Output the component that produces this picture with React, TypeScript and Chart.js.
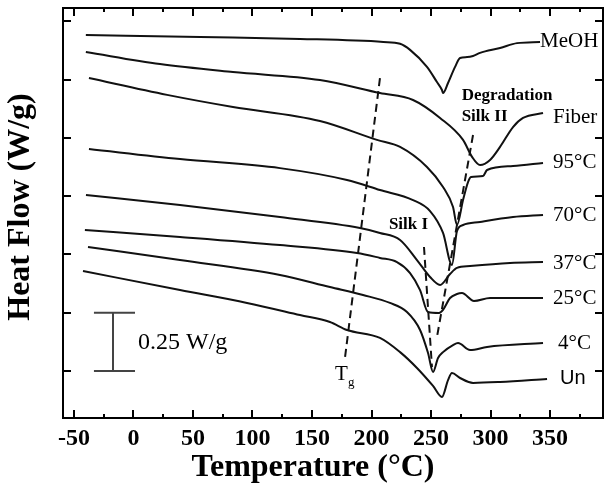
import React, { useEffect, useRef } from "react";
import { Chart, registerables } from "chart.js";

Chart.register(...registerables);

// ---------- axis ticks ----------
const X_TICKS = [-50, 0, 50, 100, 150, 200, 250, 300, 350];
const X_MINOR = [-25, 25, 75, 125, 175, 225, 275, 325, 375];
const Y_TICKS = [0, 0.25, 0.5, 0.75, 1.0, 1.25, 1.5];

// ---------- series (Temperature °C, Heat Flow W/g, stacked offsets) ----------
const SERIES_NAMES = ["MeOH", "Fiber", "95°C", "70°C", "37°C", "25°C", "4°C", "Un"];

const MEOH: number[][] = [
  [-40, 1.441], [56, 1.432], [140, 1.424], [210, 1.411], [224, 1.403], [232.4, 1.377],
  [246.6, 1.304], [255, 1.239], [259.2, 1.205], [260.1, 1.192], [264.3, 1.235], [270.2, 1.304],
  [274.4, 1.342], [280.3, 1.346], [285.3, 1.351], [291.2, 1.364], [308, 1.385], [322.3, 1.406],
  [341.6, 1.411],
];
const FIBER: number[][] = [
  [-40, 1.368], [22.3, 1.316], [83.6, 1.282], [156.7, 1.248], [207.1, 1.192], [234.9, 1.162],
  [257.6, 1.085], [276.9, 0.991], [284.5, 0.918], [291.2, 0.883], [299.6, 0.905], [308, 0.961],
  [318.9, 1.046], [327.3, 1.085], [344.1, 1.106],
];
const C95: number[][] = [
  [-37.4, 1.256], [28.2, 1.184], [83.6, 1.132], [156.7, 1.072], [204.6, 0.991], [224, 0.961],
  [246.6, 0.875], [260.1, 0.789], [268.5, 0.703], [271.8, 0.626], [276.9, 0.733], [281.1, 0.81],
  [283.6, 0.832], [293.7, 0.836], [297.1, 0.862], [318.9, 0.879], [344.1, 0.892],
];
const C70: number[][] = [
  [-37.4, 0.952], [39.1, 0.909], [123.1, 0.87], [179.4, 0.819], [207.1, 0.776], [234.9, 0.733],
  [249.2, 0.686], [260.1, 0.592], [267.6, 0.455], [271.8, 0.6], [276.9, 0.626], [291.2, 0.639],
  [318.9, 0.66], [344.1, 0.669],
];
const C37: number[][] = [
  [-39.9, 0.755], [39.1, 0.712], [123.1, 0.66], [190.3, 0.613], [207.1, 0.592], [224, 0.562],
  [238.2, 0.476], [249.2, 0.403], [257.6, 0.369], [266, 0.416], [271.8, 0.442], [282.8, 0.45],
  [316.4, 0.463], [344.1, 0.467],
];
const C25: number[][] = [
  [-40.8, 0.605], [39.1, 0.575], [123.1, 0.54], [187.8, 0.506], [207.1, 0.485], [221.4, 0.467],
  [232.4, 0.42], [240.8, 0.347], [247.5, 0.253], [256.7, 0.249], [260.1, 0.262], [266, 0.313],
  [271.8, 0.33], [276, 0.334], [286.1, 0.3], [299.6, 0.313], [344.1, 0.313],
];
const C4: number[][] = [
  [-38.2, 0.532], [39.1, 0.476], [123.1, 0.412], [165.1, 0.36], [192.9, 0.326], [215.5, 0.292],
  [229.8, 0.253], [240.8, 0.176], [247.5, 0.077], [251.7, -0.004], [255.9, 0.056], [260.1, 0.081],
  [268.5, 0.111], [272.7, 0.12], [282.8, 0.09], [297.1, 0.103], [344.1, 0.12],
];
const UN: number[][] = [
  [-42.4, 0.429], [39.1, 0.347], [95.4, 0.292], [139.9, 0.24], [165.1, 0.21], [179.4, 0.176],
  [207.1, 0.142], [224, 0.081], [238.2, 0.013], [251.7, -0.064], [259.2, -0.111], [264.3, -0.039],
  [267.6, -0.009], [274.4, -0.03], [285.3, -0.051], [308, -0.047], [347.5, -0.034],
];
const SERIES = [MEOH, FIBER, C95, C70, C37, C25, C4, UN];

// ---------- guide lines ----------
const TG_LINE: number[][] = [[207.1, 1.256], [177.7, 0.056]];
const SILK1_LINE: number[][] = [[244.1, 0.532], [250.8, 0.017]];
const SILK2_LINE: number[][] = [[285.3, 1.012], [255.0, 0.146]];
const SCALE_BAR_X = -17.2;
const SCALE_BAR_CAPS = [-33.2, 1.3];
const SCALE_BAR_Y = [0, 0.25];

// ---------- text ----------
const X_TITLE = "Temperature (°C)";
const Y_TITLE = "Heat Flow (W/g)";
const SERIF = '"Liberation Serif", "Times New Roman", serif';
const SANS = '"Liberation Sans", Arial, sans-serif';

const SERIES_LABEL_POS: number[][] = [
  [341.6, 1.411], [352.5, 1.089], [352.5, 0.896], [352.5, 0.665],
  [352.5, 0.463], [352.5, 0.313], [356.7, 0.12], [358.4, -0.034],
];

const NOTES = [
  { text: "Degradation", x: 313.9, y: 1.183, font: `bold 17px ${SERIF}`, align: "center" },
  { text: "Silk II", x: 295, y: 1.089, font: `bold 17px ${SERIF}`, align: "center" },
  { text: "Silk I", x: 231.1, y: 0.626, font: `bold 17px ${SERIF}`, align: "center" },
  { text: "0.25 W/g", x: 3.8, y: 0.12, font: `24px ${SERIF}`, align: "left" },
  { text: "T", x: 169.3, y: -0.017, font: `21px ${SERIF}`, align: "left" },
  { text: "g", x: 180.3, y: -0.051, font: `13px ${SERIF}`, align: "left" },
];

const toXY = (arr: number[][]) => arr.map(([x, y]) => ({ x, y }));

const framePlugin = {
  id: "frameAndText",
  afterDraw(chart: any) {
    const { ctx, chartArea: a, scales } = chart;
    const xs = scales.x;
    const ys = scales.y;
    ctx.save();
    ctx.strokeStyle = "#000";
    ctx.lineWidth = 2;
    ctx.strokeRect(a.left, a.top, a.right - a.left, a.bottom - a.top);
    ctx.beginPath();
    const xt = (v: number, len: number) => {
      const p = Math.round(xs.getPixelForValue(v));
      ctx.moveTo(p, a.bottom);
      ctx.lineTo(p, a.bottom - len);
      ctx.moveTo(p, a.top);
      ctx.lineTo(p, a.top + len);
    };
    X_TICKS.forEach((v) => xt(v, 8));
    X_MINOR.forEach((v) => xt(v, 4));
    Y_TICKS.forEach((v) => {
      const p = Math.round(ys.getPixelForValue(v));
      ctx.moveTo(a.left, p);
      ctx.lineTo(a.left + 8, p);
      ctx.moveTo(a.right, p);
      ctx.lineTo(a.right - 8, p);
    });
    ctx.stroke();

    ctx.fillStyle = "#000";
    ctx.textBaseline = "middle";
    SERIES_NAMES.forEach((name, i) => {
      const [x, y] = SERIES_LABEL_POS[i];
      ctx.font = name === "Un" ? `20px ${SANS}` : `21px ${SERIF}`;
      ctx.textAlign = "left";
      ctx.fillText(name, xs.getPixelForValue(x), ys.getPixelForValue(y));
    });
    NOTES.forEach((n) => {
      ctx.font = n.font;
      ctx.textAlign = n.align;
      ctx.fillText(n.text, xs.getPixelForValue(n.x), ys.getPixelForValue(n.y));
    });

    // axis titles
    ctx.font = `bold 32px ${SERIF}`;
    ctx.textAlign = "center";
    ctx.fillText(X_TITLE, 313, 468);
    ctx.save();
    ctx.translate(21, 207);
    ctx.rotate(-Math.PI / 2);
    ctx.fillText(Y_TITLE, 0, 0);
    ctx.restore();
    ctx.restore();
  },
};

export default function App() {
  const ref = useRef<HTMLCanvasElement>(null);
  useEffect(() => {
    if (!ref.current) return;
    const curveSets = SERIES.map((s, i) => ({
      label: SERIES_NAMES[i],
      data: toXY(s),
      borderColor: "#111",
      borderWidth: 2,
      pointRadius: 0,
      cubicInterpolationMode: "monotone",
      fill: false,
    }));
    const dash = (arr: number[][]) => ({
      data: toXY(arr),
      borderColor: "#111",
      borderWidth: 2,
      borderDash: [8, 5],
      pointRadius: 0,
      tension: 0,
      fill: false,
    });
    const bar = (arr: number[][]) => ({
      data: toXY(arr),
      borderColor: "#444",
      borderWidth: 2,
      pointRadius: 0,
      tension: 0,
      fill: false,
    });
    const chart = new Chart(ref.current, {
      type: "line",
      data: {
        datasets: [
          ...curveSets,
          dash(TG_LINE),
          dash(SILK1_LINE),
          dash(SILK2_LINE),
          bar([[SCALE_BAR_X, SCALE_BAR_Y[0]], [SCALE_BAR_X, SCALE_BAR_Y[1]]]),
          bar([[SCALE_BAR_CAPS[0], SCALE_BAR_Y[0]], [SCALE_BAR_CAPS[1], SCALE_BAR_Y[0]]]),
          bar([[SCALE_BAR_CAPS[0], SCALE_BAR_Y[1]], [SCALE_BAR_CAPS[1], SCALE_BAR_Y[1]]]),
        ] as any,
      },
      options: {
        responsive: false,
        animation: false,
        devicePixelRatio: 1,
        layout: { padding: { top: 8, right: 12, left: 0, bottom: 0 } },
        plugins: { legend: { display: false }, tooltip: { enabled: false } },
        scales: {
          x: {
            type: "linear",
            min: -59.2,
            max: 394.5,
            grid: { display: false },
            border: { display: false },
            afterBuildTicks: (s: any) => {
              s.ticks = X_TICKS.map((v) => ({ value: v }));
            },
            afterFit: (s: any) => {
              s.height = 74;
            },
            ticks: {
              autoSkip: false,
              maxRotation: 0,
              minRotation: 0,
              padding: -2,
              color: "#000",
              font: { family: SERIF, size: 24, weight: "bold" },
              callback: (v: any) => String(v),
            },
            title: { display: false },
          },
          y: {
            type: "linear",
            min: -0.2015,
            max: 1.5566,
            grid: { display: false },
            border: { display: false },
            afterBuildTicks: (s: any) => {
              s.ticks = Y_TICKS.map((v) => ({ value: v }));
            },
            afterFit: (s: any) => {
              s.width = 63;
            },
            ticks: { display: false },
            title: { display: false },
          },
        },
      } as any,
      plugins: [framePlugin],
    });
    return () => chart.destroy();
  }, []);
  return (
    <div style={{ position: "fixed", left: 0, top: 0, width: 615, height: 492, background: "#fff" }}>
      <canvas ref={ref} width={615} height={492} style={{ width: 615, height: 492, display: "block" }} />
    </div>
  );
}
